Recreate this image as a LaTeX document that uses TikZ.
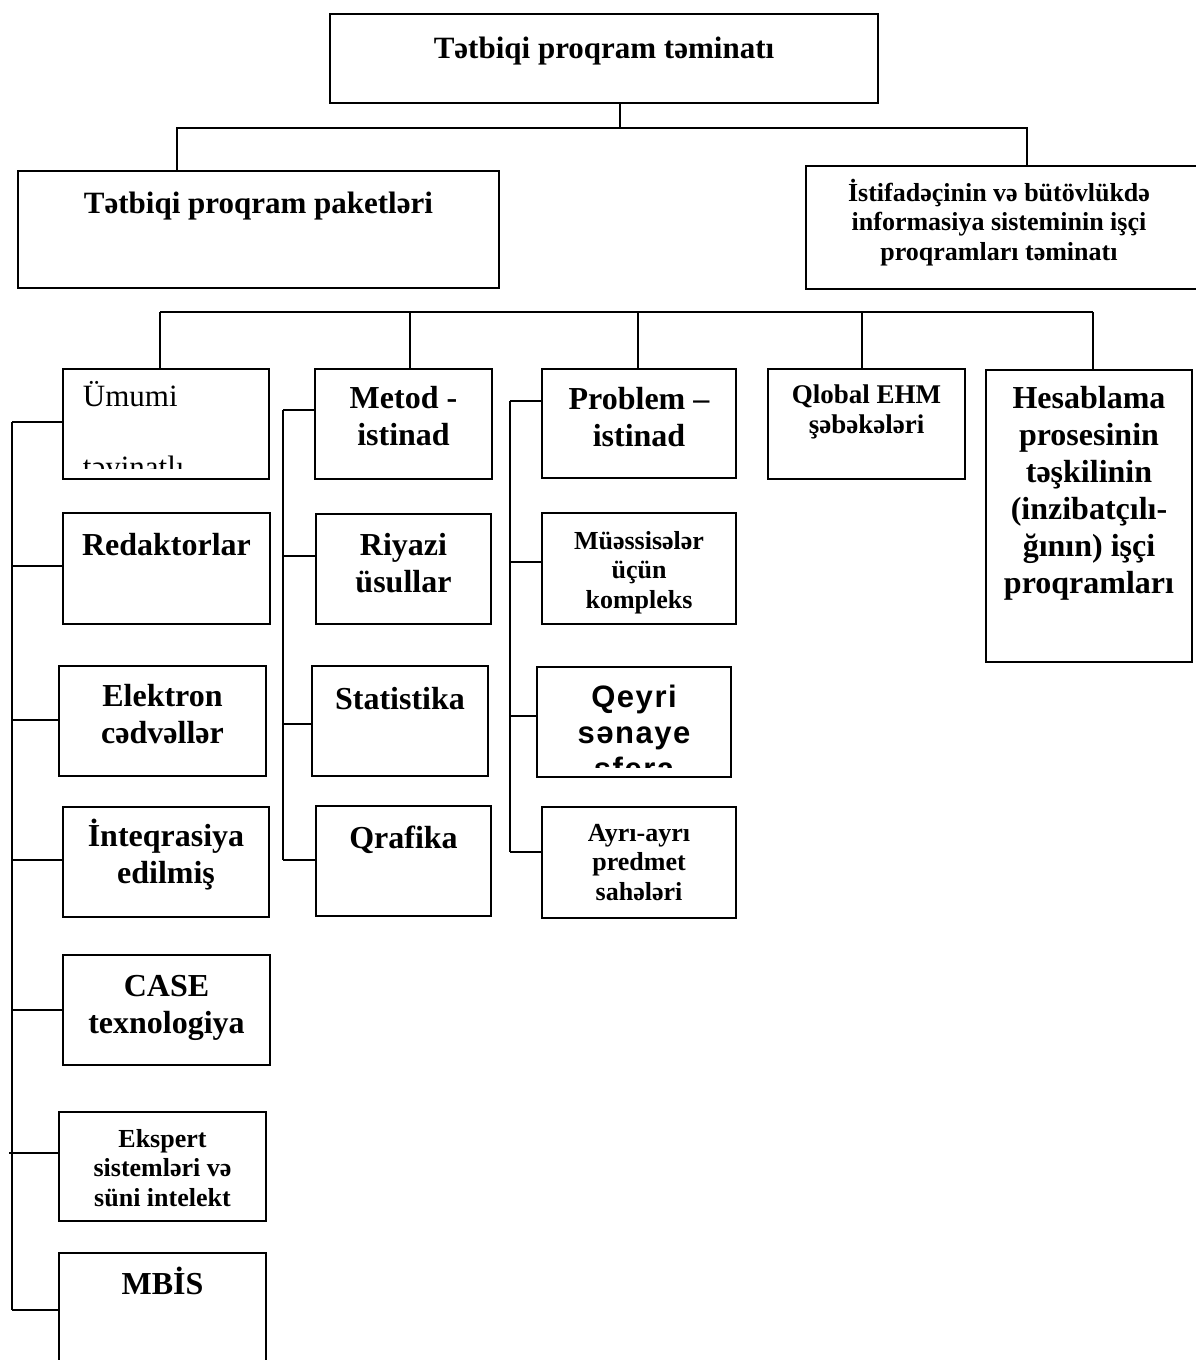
\documentclass[tikz,border=0pt]{standalone}
\usepackage{fontspec}
\setmainfont{Liberation Serif}
\newfontfamily\spacedsans[LetterSpace=5]{Liberation Sans}
\begin{document}
\begin{tikzpicture}[x=1pt,y=-1pt,line width=1.8pt,
  box/.style={draw,rectangle,inner sep=0pt,outer sep=0pt,anchor=north west},
  big/.style={font=\fontsize{32}{37}\selectfont\bfseries,align=center,anchor=base,inner sep=0pt},
  small/.style={font=\fontsize{26}{29.5}\selectfont\bfseries,align=center,anchor=base,inner sep=0pt}]
\useasboundingbox[fill=white] (0,0) rectangle (1196,1360);

% rectangle from (x1,y1) to (x2,y2)
\newcommand\mkbox[5]{\node[box,minimum width={(#4-#2)*1pt},minimum height={(#5-#3)*1pt}] (#1) at (#2,#3) {};}

% ---- boxes
\mkbox{top}{330}{14}{878}{103}
\mkbox{pkt}{18}{171}{499}{288}
\mkbox{ist}{806}{166}{1202}{289}

\mkbox{umumi}{63}{369}{269}{479}
\mkbox{metod}{315}{369}{492}{479}
\mkbox{probl}{542}{369}{736}{478}
\mkbox{qlob}{768}{369}{965}{479}
\mkbox{hesab}{986}{370}{1192}{662}

\mkbox{redak}{63}{513}{270}{624}
\mkbox{elek}{59}{666}{266}{776}
\mkbox{integ}{63}{807}{269}{917}
\mkbox{case}{63}{955}{270}{1065}
\mkbox{eksp}{59}{1112}{266}{1221}
\mkbox{mbis}{59}{1253}{266}{1368}

\mkbox{riyaz}{316}{514}{491}{624}
\mkbox{stat}{312}{666}{488}{776}
\mkbox{qraf}{316}{806}{491}{916}

\mkbox{muess}{542}{513}{736}{624}
\mkbox{qeyri}{537}{667}{731}{777}
\mkbox{ayri}{542}{807}{736}{918}

% ---- labels (a multi-line label sits on the baseline of its last line)
\node[big,font=\fontsize{31}{36}\selectfont\bfseries] (top-t) at (604,58) {Tətbiqi proqram təminatı};
\node[big,font=\fontsize{31}{36}\selectfont\bfseries] (pkt-t) at (258.5,213) {Tətbiqi proqram paketləri};
\node[small] (ist-t) at (999,260) {İstifadəçinin və bütövlükdə\\informasiya sisteminin işçi\\proqramları təminatı};

\begin{scope}
  \clip (63,369) rectangle (269,468);
  \node[font=\fontsize{31}{71}\selectfont,align=left,anchor=base west,inner sep=0pt] (umumi-t) at (82,477) {Ümumi\\təyinatlı};
\end{scope}
\node[big] (metod-t) at (403.5,445) {Metod -\\istinad};
\node[big] (probl-t) at (639,446) {Problem –\\istinad};
\node[small,font=\fontsize{27}{29.5}\selectfont\bfseries] (qlob-t) at (866.5,433) {Qlobal EHM\\şəbəkələri};
\node[big] (hesab-t) at (1089,593) {Hesablama\\prosesinin\\təşkilinin\\(inzibatçılı-\\ğının) işçi\\proqramları};

\node[big] (redak-t) at (166.5,555) {Redaktorlar};
\node[big] (elek-t) at (162.5,743) {Elektron\\cədvəllər};
\node[big] (integ-t) at (166,883) {İnteqrasiya\\edilmiş};
\node[big] (case-t) at (166.5,1033) {CASE\\texnologiya};
\node[small] (eksp-t) at (162.5,1206) {Ekspert\\sistemləri və\\süni intelekt};
\node[big] (mbis-t) at (162.5,1294) {MBİS};

\node[big] (riyaz-t) at (403.5,592) {Riyazi\\üsullar};
\node[big] (stat-t) at (400,709) {Statistika};
\node[big] (qraf-t) at (403.5,848) {Qrafika};

\node[small] (muess-t) at (639,608) {Müəssisələr\\üçün\\kompleks};
\begin{scope}
  \clip (537,667) rectangle (731,767);
  \node[font=\fontsize{31}{36}\spacedsans\bfseries,align=center,anchor=base,inner sep=0pt] (qeyri-t) at (634,779) {Qeyri\\sənaye\\sfera};
\end{scope}
\node[small] (ayri-t) at (639,900) {Ayrı-ayrı\\predmet\\sahələri};

% ---- top level connectors
\coordinate (t1) at (620,128);
\coordinate (t2) at (177,128);
\coordinate (t3) at (1027,128);
\draw (top.south -| t1) -- (t1);
\draw (pkt.north -| t2) -- (t2) -- (t3) -- (ist.north -| t3);

% ---- bus over the second row
\coordinate (c1) at (160,312);
\coordinate (c2) at (410,312);
\coordinate (c3) at (638,312);
\coordinate (c4) at (862,312);
\coordinate (c5) at (1093,312);
\draw (c1) -- (c5);
\draw (c1) -- (umumi.north -| c1);
\draw (c2) -- (metod.north -| c2);
\draw (c3) -- (probl.north -| c3);
\draw (c4) -- (qlob.north -| c4);
\draw (c5) -- (hesab.north -| c5);

% ---- left trunk
\foreach \n/\yy in {umumi/422,redak/566,elek/720,integ/860,case/1010,mbis/1310}{
  \coordinate (L-\n) at (12,\yy);
  \draw (L-\n) -- (\n.west |- L-\n);
}
\coordinate (L-eksp) at (9,1153);
\draw (L-eksp) -- (eksp.west |- L-eksp);
\draw (L-umumi) -- (L-mbis);

% ---- method trunk
\foreach \n/\yy in {metod/410,riyaz/556,stat/724,qraf/860}{
  \coordinate (M-\n) at (283,\yy);
  \draw (M-\n) -- (\n.west |- M-\n);
}
\draw (M-metod) -- (M-qraf);

% ---- problem trunk
\foreach \n/\yy in {probl/401,muess/562,qeyri/716,ayri/852}{
  \coordinate (P-\n) at (510,\yy);
  \draw (P-\n) -- (\n.west |- P-\n);
}
\draw (P-probl) -- (P-ayri);
\end{tikzpicture}
\end{document}
